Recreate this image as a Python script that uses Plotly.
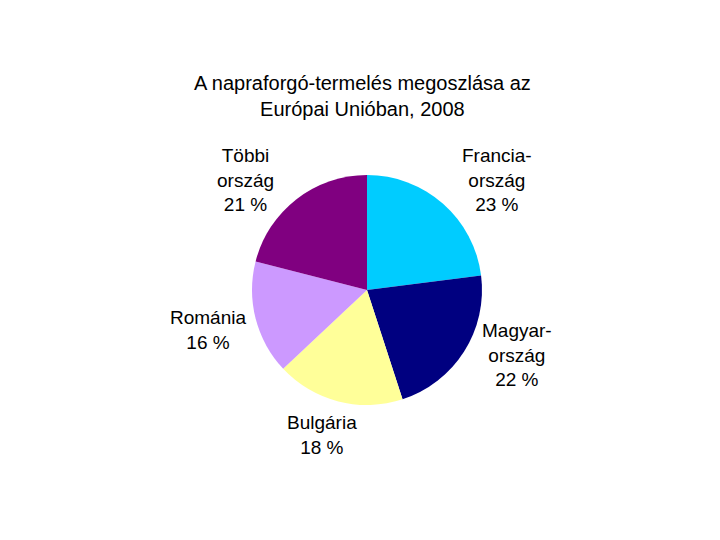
import plotly.graph_objects as go

# data
labels = ["Francia-<br>ország", "Magyar-<br>ország", "Bulgária", "Románia", "Többi<br>ország"]
shares = [23, 22, 18, 16, 21]
colors = ["#00CCFF", "#000080", "#FFFF99", "#CC99FF", "#800080"]

W, H = 720, 540
off = 8  # page body margin shifts the figure by this many pixels
cx, cy, r = 367 - off, 290 - off, 115  # pie centre and radius in pixels

# label centres, pixel offsets from pie centre
label_offsets = [(130, -110), (150, 65), (-45, 145), (-159, 40), (-122, -110)]

fig = go.Figure()
fig.add_trace(go.Pie(
    values=shares,
    labels=labels,
    marker=dict(colors=colors, line=dict(width=0)),
    sort=False,
    direction="clockwise",
    rotation=0,
    textinfo="none",
    hoverinfo="label+percent",
    showlegend=False,
    domain=dict(x=[(cx - r) / W, (cx + r) / W], y=[(H - cy - r) / H, (H - cy + r) / H]),
))

# outside labels like the original (no leader lines)
for lab, val, (dx, dy) in zip(labels, shares, label_offsets):
    fig.add_annotation(
        x=(cx + dx) / W, y=(H - cy - dy) / H, xref="paper", yref="paper",
        text=f"{lab}<br>{val} %", showarrow=False,
        xanchor="center", yanchor="middle", align="center",
        font=dict(family="Liberation Sans, Arial, sans-serif", size=19, color="black"),
    )

fig.add_annotation(
    x=(362 - off) / W, y=(H - 96 + off) / H, xref="paper", yref="paper",
    text="A napraforgó-termelés megoszlása az<br>Európai Unióban, 2008",
    showarrow=False, xanchor="center", yanchor="middle", align="center",
    font=dict(family="Liberation Sans, Arial, sans-serif", size=20, color="black"),
)

fig.update_layout(
    width=W, height=H,
    margin=dict(l=0, r=0, t=0, b=0),
    paper_bgcolor="white", plot_bgcolor="white",
)

fig.write_html("out.html")
